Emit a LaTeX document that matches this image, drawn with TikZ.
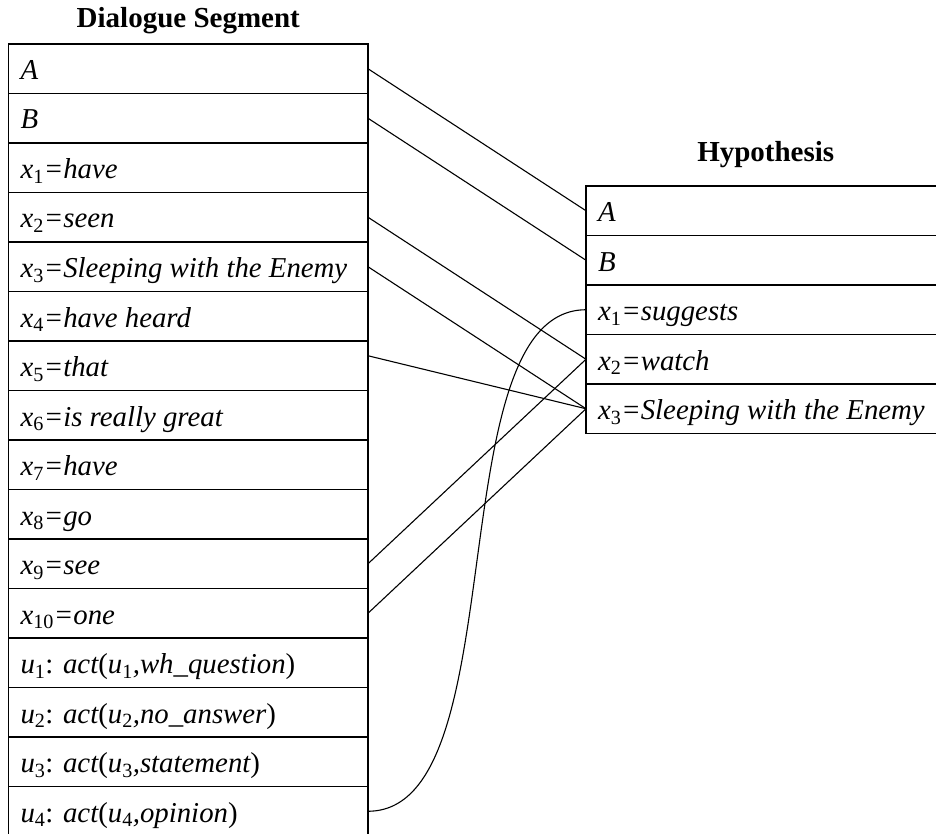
\documentclass[tikz,border=0pt]{standalone}
\usepackage{fontspec}
\setmainfont{Liberation Serif}
\usetikzlibrary{positioning}
\tikzset{>=latex}
\newcommand{\tabfont}{\fontsize{28.8}{34}\selectfont}
\newcommand{\headfont}{\fontsize{29}{34}\selectfont}
\newcommand{\xv}[1]{\textit{x}\textsubscript{\upshape #1}}
\newcommand{\uv}[1]{\textit{u}\textsubscript{\upshape #1}}

\begin{document}
\begin{tikzpicture}[x=1pt, y=-1pt, node distance = 0pt,
    row/.style={draw, line width=1.3pt, outer sep=0pt, inner xsep=12pt, inner ysep=0pt,
      text height=35.5pt, text depth=14pt, font=\tabfont\itshape,
      execute at begin node={\hbox to 335.5pt\bgroup}, execute at end node={\hss\egroup}},
    head/.style={font=\headfont\bfseries, anchor=base},
    link/.style={line width=1.1pt}]
      \useasboundingbox (0,0) rectangle (936,834);

      % dialogue segment
      \node[row, anchor=north west] (d1) at (8.5,44) {A};
      \node[row, below = of d1] (d2) {B};
      \node[row, below = of d2] (d3) {\xv{1}=have};
      \node[row, below = of d3] (d4) {\xv{2}=seen};
      \node[row, below = of d4] (d5) {\xv{3}=Sleeping with the Enemy};
      \node[row, below = of d5] (d6) {\xv{4}=have heard};
      \node[row, below = of d6] (d7) {\xv{5}=that};
      \node[row, below = of d7] (d8) {\xv{6}=is really great};
      \node[row, below = of d8] (d9) {\xv{7}=have};
      \node[row, below = of d9] (d10) {\xv{8}=go};
      \node[row, below = of d10] (d11) {\xv{9}=see};
      \node[row, below = of d11] (d12) {\xv{10}=one};
      \node[row, below = of d12] (d13) {\uv{1}{\upshape:} act{\upshape(}\uv{1},wh\_question{\upshape)}};
      \node[row, below = of d13] (d14) {\uv{2}{\upshape:} act{\upshape(}\uv{2},no\_answer{\upshape)}};
      \node[row, below = of d14] (d15) {\uv{3}{\upshape:} act{\upshape(}\uv{3},statement{\upshape)}};
      \node[row, below = of d15] (d16) {\uv{4}{\upshape:} act{\upshape(}\uv{4},opinion{\upshape)}};
      \node[head] (dtitle) at ([yshift=16pt]d1.north) {Dialogue Segment};

      % hypothesis
      \node[row, anchor=north west] (h1) at (586,186) {A};
      \node[row, below = of h1] (h2) {B};
      \node[row, below = of h2] (h3) {\xv{1}=suggests};
      \node[row, below = of h3] (h4) {\xv{2}=watch};
      \node[row, below = of h4] (h5) {\xv{3}=Sleeping with the Enemy};
      \node[head] (htitle) at ([yshift=24pt]h1.north) {Hypothesis};

      \draw[link] (d1.east) -- (h1.west);
      \draw[link] (d2.east) -- (h2.west);
      \draw[link] (d4.east) -- (h4.west);
      \draw[link] (d5.east) -- (h5.west);
      \draw[link] ([yshift=10pt]d7.east) -- (h5.west);
      \draw[link] (d11.east) -- (h4.west);
      \draw[link] (d12.east) -- (h5.west);
      \draw[link] (d16.east) .. controls +(150,0) and +(-150,0) .. (h3.west);

\end{tikzpicture}
\end{document}
